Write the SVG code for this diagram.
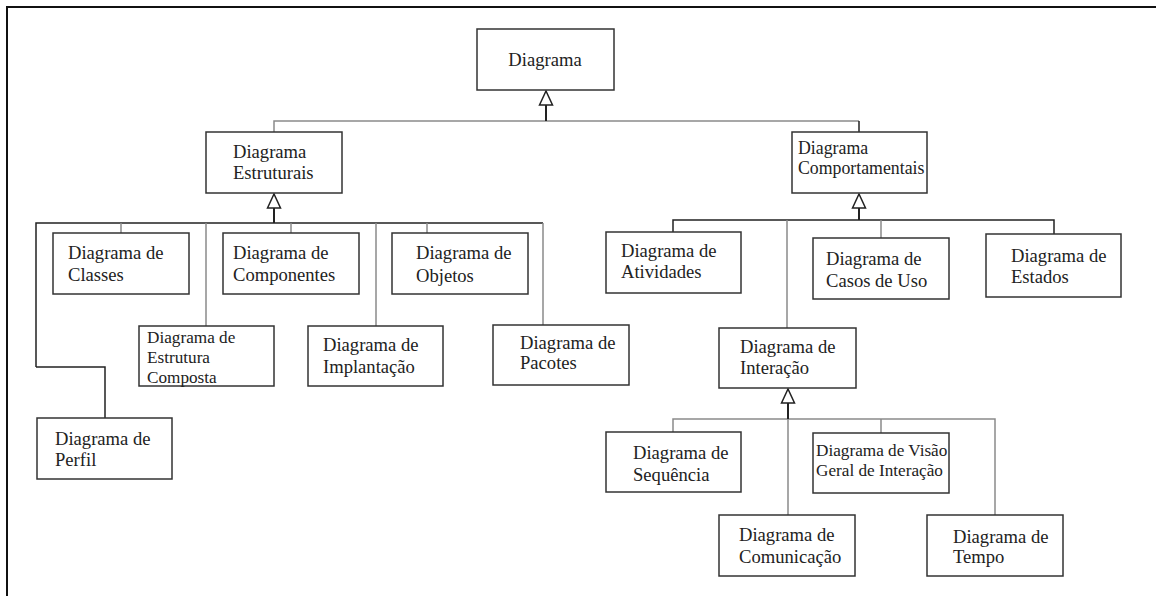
<svg xmlns="http://www.w3.org/2000/svg" width="1156" height="596" viewBox="0 0 1156 596">
<style>
.box{fill:#fff;stroke:#333;stroke-width:1.5}
.t{font-family:"Liberation Serif","Times New Roman",serif;font-size:18.6px;fill:#222}
.s{font-size:17.2px}
.c{font-size:17.8px}
.g{fill:none;stroke:#8a8a8a;stroke-width:1.5}
.d{fill:none;stroke:#222;stroke-width:1.5}
.st{fill:none;stroke:#222;stroke-width:2;marker-end:url(#tri)}
</style>
<defs>
<marker id="tri" markerUnits="userSpaceOnUse" markerWidth="16" markerHeight="16" refX="14" refY="7" orient="auto" viewBox="-1 -1 16 16">
<path d="M0,0.5 L14,7 L0,13.5 Z" fill="#fff" stroke="#222" stroke-width="1.5"/>
</marker>
</defs>
<rect width="1156" height="596" fill="#fff"/>
<path d="M7,596 V7 H1156" fill="none" stroke="#111" stroke-width="2"/>
<g id="connectors">
<path class="g" d="M274,132 V121 H859"/>
<path class="d" d="M859,121 V132"/>
<path class="st" d="M546,121 V91"/>
<path class="d" d="M36,367 V223 H543"/>
<path class="g" d="M543,223 V325"/>
<path class="d" d="M36,367 H105 V418"/>
<path class="g" d="M121,223 V233 M291,223 V233 M427,223 V233 M206,223 V326 M376,223 V326"/>
<path class="st" d="M274,223 V194"/>
<path class="d" d="M673,232 V220 H1054 V234"/>
<path class="g" d="M787,220 V328 M881,220 V238"/>
<path class="st" d="M859,220 V194"/>
<path class="g" d="M673,432 V419 H995 V515 M881,419 V433"/>
<path class="g" d="M788,419 V515"/>
<path class="st" d="M788,419 V389"/>
</g>
<g id="n-diagrama"><rect class="box" x="477" y="29" width="137" height="61"/><text class="t" x="545" y="66" text-anchor="middle">Diagrama</text></g>
<g id="n-estruturais"><rect class="box" x="206" y="132" width="136" height="61"/><text class="t" x="233" y="158">Diagrama</text><text class="t" x="233" y="179">Estruturais</text></g>
<g id="n-comportamentais"><rect class="box" x="792" y="132" width="135" height="61"/><text class="t c" x="798" y="154">Diagrama</text><text class="t c" x="798" y="174">Comportamentais</text></g>
<g id="n-classes"><rect class="box" x="53" y="233" width="136" height="61"/><text class="t" x="68" y="259">Diagrama de</text><text class="t" x="68" y="281">Classes</text></g>
<g id="n-componentes"><rect class="box" x="223" y="233" width="136" height="61"/><text class="t" x="233" y="259">Diagrama de</text><text class="t" x="233" y="281">Componentes</text></g>
<g id="n-objetos"><rect class="box" x="392" y="233" width="136" height="61"/><text class="t" x="416" y="259">Diagrama de</text><text class="t" x="416" y="282">Objetos</text></g>
<g id="n-composta"><rect class="box" x="139" y="326" width="135" height="60"/><text class="t s" x="147" y="343">Diagrama de</text><text class="t s" x="147" y="363">Estrutura</text><text class="t s" x="147" y="383">Composta</text></g>
<g id="n-implantacao"><rect class="box" x="308" y="326" width="135" height="60"/><text class="t" x="323" y="351">Diagrama de</text><text class="t" x="323" y="373">Implantação</text></g>
<g id="n-pacotes"><rect class="box" x="493" y="325" width="136" height="60"/><text class="t" x="520" y="349">Diagrama de</text><text class="t" x="520" y="369">Pacotes</text></g>
<g id="n-perfil"><rect class="box" x="37" y="418" width="135" height="61"/><text class="t" x="55" y="445">Diagrama de</text><text class="t" x="55" y="466">Perfil</text></g>
<g id="n-atividades"><rect class="box" x="606" y="232" width="135" height="61"/><text class="t" x="621" y="257">Diagrama de</text><text class="t" x="621" y="278">Atividades</text></g>
<g id="n-casos"><rect class="box" x="813" y="238" width="136" height="61"/><text class="t" x="826" y="265">Diagrama de</text><text class="t" x="826" y="287">Casos de Uso</text></g>
<g id="n-estados"><rect class="box" x="986" y="234" width="135" height="63"/><text class="t" x="1011" y="262">Diagrama de</text><text class="t" x="1011" y="283">Estados</text></g>
<g id="n-interacao"><rect class="box" x="719" y="328" width="137" height="60"/><text class="t" x="740" y="353">Diagrama de</text><text class="t" x="740" y="374">Interação</text></g>
<g id="n-sequencia"><rect class="box" x="606" y="432" width="135" height="60"/><text class="t" x="633" y="459">Diagrama de</text><text class="t" x="633" y="481">Sequência</text></g>
<g id="n-visao"><rect class="box" x="813" y="433" width="136" height="60"/><text class="t s" x="816" y="456">Diagrama de Visão</text><text class="t s" x="816" y="476">Geral de Interação</text></g>
<g id="n-comunicacao"><rect class="box" x="719" y="515" width="136" height="61"/><text class="t" x="739" y="541">Diagrama de</text><text class="t" x="739" y="563">Comunicação</text></g>
<g id="n-tempo"><rect class="box" x="927" y="515" width="136" height="61"/><text class="t" x="953" y="543">Diagrama de</text><text class="t" x="953" y="563">Tempo</text></g>
</svg>
